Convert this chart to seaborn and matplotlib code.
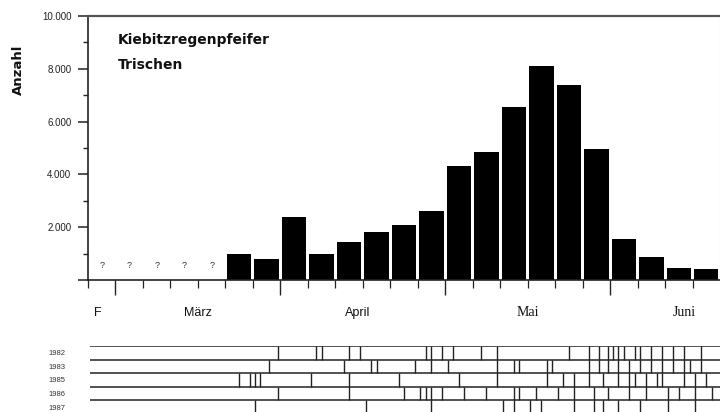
import numpy as np
import pandas as pd
import matplotlib
matplotlib.use("Agg")
import matplotlib.pyplot as plt
from matplotlib.ticker import FixedLocator, FuncFormatter
import seaborn as sns

# Pentads (5-day periods) from the last one of February to mid-June
pentads = ["F6",
           "M1", "M2", "M3", "M4", "M5", "M6",
           "A1", "A2", "A3", "A4", "A5", "A6",
           "Mai1", "Mai2", "Mai3", "Mai4", "Mai5", "Mai6",
           "J1", "J2", "J3", "J4"]

# Pentad maxima of Grey Plovers on Trischen (NaN = no counts, shown as "?")
counts = [np.nan, np.nan, np.nan, np.nan, np.nan,
          1000, 800,
          2400, 1000, 1450, 1800, 2100, 2600,
          4300, 4830, 6570, 8100, 7400, 4980,
          1550, 870, 450, 410]

month_labels = ["F", "März", "April", "Mai", "Juni"]
yticks = [0, 2000, 4000, 6000, 8000, 10000]

# Count dates per season
years = ["1982", "1983", "1985", "1986", "1987"]
count_dates = {
    "1982": ["03-31", "04-07", "04-08", "04-13", "04-15", "04-27", "04-28",
             "04-30", "05-02", "05-07", "05-10", "05-23", "05-27", "05-29",
             "05-31", "06-01", "06-02", "06-03", "06-05", "06-06", "06-08",
             "06-10", "06-12", "06-14", "06-17"],
    "1983": ["03-29", "04-12", "04-17", "04-18", "04-25", "04-28", "05-01",
             "05-10", "05-13", "05-14", "05-19", "05-20", "05-27", "05-29",
             "05-31", "06-02", "06-04", "06-06", "06-08", "06-10", "06-12",
             "06-14", "06-15", "06-17"],
    "1985": ["03-23", "03-25", "03-26", "03-27", "04-06", "04-13", "04-22",
             "05-03", "05-10", "05-19", "05-22", "05-24", "05-27", "05-30",
             "06-02", "06-04", "06-05", "06-07", "06-09", "06-10", "06-14",
             "06-16", "06-18"],
    "1986": ["03-31", "04-13", "04-23", "04-26", "04-27", "04-28", "04-30",
             "05-04", "05-08", "05-13", "05-14", "05-17", "05-21", "05-24",
             "05-28", "05-31", "06-04", "06-07", "06-11", "06-13", "06-16",
             "06-19"],
    "1987": ["03-26", "04-16", "04-28", "05-11", "05-13", "05-16", "05-18",
             "05-24", "05-28", "05-30", "06-02", "06-06", "06-11", "06-16"],
}

# index of the first pentad of each month on the pentad axis
month_first = {2: -5, 3: 1, 4: 7, 5: 13, 6: 19}
month_days = {2: 28, 3: 31, 4: 30, 5: 31, 6: 30}


def pentad_position(date):
    m, d = (int(v) for v in date.split("-"))
    p = min((d - 1) // 5, 5)
    length = month_days[m] - 25 if p == 5 else 5
    frac = (d - 1 - 5 * p + 0.5) / length
    return month_first[m] + p + frac - 0.5


sns.set_theme(style="ticks")
plt.rcParams["font.family"] = ["Liberation Sans", "DejaVu Sans"]

W, H = 720, 412
fig = plt.figure(figsize=(W / 100, H / 100), dpi=100)

# ---- bar chart ----
ax = fig.add_axes([88 / W, 1 - 280 / H, 632 / W, 264 / H])
df = pd.DataFrame({"pentade": pentads, "anzahl": counts})
sns.barplot(data=df, x="pentade", y="anzahl", order=pentads, color="black",
            saturation=1, width=0.89, linewidth=0, errorbar=None, ax=ax)
ax.set_xlim(-0.5, len(pentads) - 0.5)
ax.set_ylim(0, 10000)
ax.set_xlabel("")
ax.set_ylabel("")

# missing pentads
for i, v in enumerate(counts):
    if np.isnan(v):
        ax.text(i, 560, "?", ha="center", va="center", fontsize=6.5, color="#333")

# y axis
ax.yaxis.set_major_locator(FixedLocator(yticks))
ax.yaxis.set_minor_locator(FixedLocator([1000, 3000, 5000, 7000, 9000]))
ax.yaxis.set_major_formatter(FuncFormatter(
    lambda v, _: "" if v == 0 else f"{int(v):,}".replace(",", ".")))
ax.tick_params(axis="y", which="major", length=7, width=1.1, pad=5,
               labelsize=7, color="#222", labelcolor="#222")
ax.tick_params(axis="y", which="minor", length=3.5, width=1.0, color="#222")

# x axis: pentad boundaries, long ticks at month boundaries
month_bounds = [0.5, 6.5, 12.5, 18.5]
pentad_bounds = [b - 0.5 for b in range(len(pentads))]
ax.xaxis.set_major_locator(FixedLocator(month_bounds))
ax.xaxis.set_minor_locator(FixedLocator(
    [b for b in pentad_bounds if b not in month_bounds]))
ax.set_xticklabels([])
ax.tick_params(axis="x", which="major", length=10.5, width=1.0, color="#222")
ax.tick_params(axis="x", which="minor", length=5.5, width=0.9, color="#222")

for side in ["left", "bottom"]:
    ax.spines[side].set_linewidth(1.2)
    ax.spines[side].set_color("#222")
ax.spines["top"].set_visible(True)
ax.spines["top"].set_linewidth(1.6)
ax.spines["top"].set_color("#555")
ax.spines["right"].set_visible(True)
ax.spines["right"].set_linewidth(0.8)
ax.spines["right"].set_color("#cccccc")

# month names under the axis
label_pos = [-0.15, 3.5, 9.3, 15.5, 21.2]
for lab, pos in zip(month_labels, label_pos):
    if lab in ("Mai", "Juni"):
        fam, size = ["Liberation Serif"], 10
    else:
        fam, size = ["Liberation Sans"], 9
    ax.text(pos, -0.125, lab, transform=ax.get_xaxis_transform(),
            ha="center", va="center", fontsize=size, family=fam, color="#111")

fig.text(118 / W, 1 - 40 / H, "Kiebitzregenpfeifer", fontsize=10,
         fontweight="bold", family=["DejaVu Sans"], va="center", ha="left",
         color="#111")
fig.text(118 / W, 1 - 65 / H, "Trischen", fontsize=10,
         fontweight="bold", family=["DejaVu Sans"], va="center", ha="left",
         color="#111")
fig.text(18 / W, 1 - 70 / H, "Anzahl", fontsize=9.5, fontweight="bold",
         family=["DejaVu Sans"], rotation=90, va="center", ha="center",
         color="#111")

# ---- count dates per year ----
tx = fig.add_axes([88 / W, 1 - 414 / H, 632 / W, 68 / H])
tx.set_xlim(-0.5, len(pentads) - 0.5)
tx.set_ylim(len(years), 0)
tx.hlines(range(len(years) + 1), -0.43, len(pentads) - 0.5,
          color="#222", lw=1.1)
for r, yr in enumerate(years):
    xs = [pentad_position(d) for d in count_dates[yr]]
    tx.vlines(xs, r, r + 1, color="#222", lw=1.0)
tx.set_yticks([r + 0.5 for r in range(len(years))])
tx.set_yticklabels(years)
tx.tick_params(axis="y", length=0, pad=16, labelsize=5.5, labelcolor="#333")
tx.set_xticks([])
for s in tx.spines.values():
    s.set_visible(False)

fig.savefig("out.png", dpi=100)
